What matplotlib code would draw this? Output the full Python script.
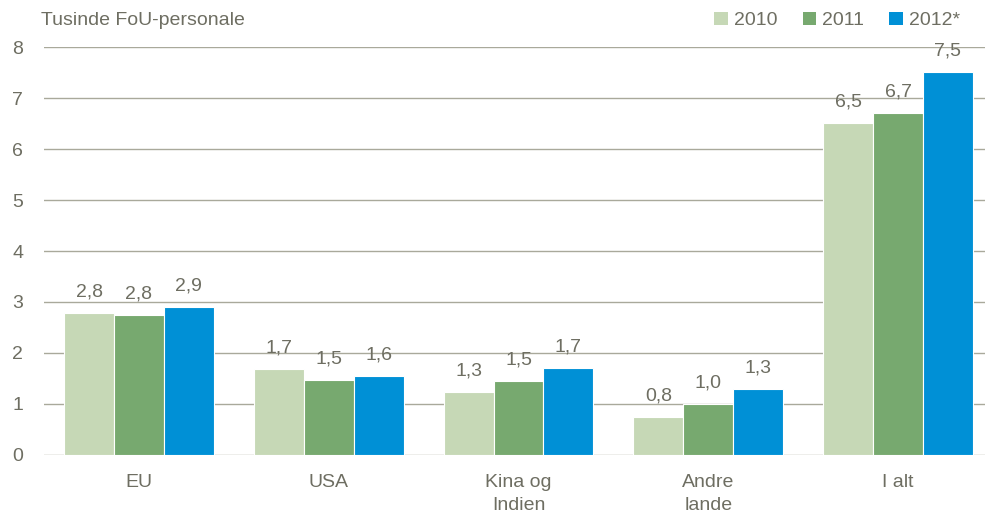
import numpy as np
import matplotlib.pyplot as plt
from matplotlib.patches import Patch

plt.rcParams['font.family'] = ['Liberation Sans Narrow', 'Liberation Sans', 'DejaVu Sans']

categories = ['EU', 'USA', 'Kina og\nIndien', 'Andre\nlande', 'I alt']
years = ['2010', '2011', '2012*']
values_2010 = [2.78, 1.69, 1.24, 0.75, 6.51]
values_2011 = [2.75, 1.47, 1.45, 1.00, 6.71]
values_2012 = [2.90, 1.55, 1.71, 1.29, 7.51]
labels_2010 = ['2,8', '1,7', '1,3', '0,8', '6,5']
labels_2011 = ['2,8', '1,5', '1,5', '1,0', '6,7']
labels_2012 = ['2,9', '1,6', '1,7', '1,3', '7,5']
colors = ['#c6d8b6', '#77a96f', '#0090d6']

text_col = '#6e6e62'
grid_col = '#a9a99b'

fig = plt.figure(figsize=(9.85, 5.17), dpi=100)
ax = fig.add_axes([0.0447, 0.12, 0.9553, 0.789])

x = np.arange(len(categories))
w = 0.263
series = [values_2010, values_2011, values_2012]
labels = [labels_2010, labels_2011, labels_2012]
for i, (vals, labs) in enumerate(zip(series, labels)):
    bars = ax.bar(x + (i - 1) * w, vals, w, color=colors[i], edgecolor='white',
                  linewidth=0.8, zorder=3)
    for b, lab in zip(bars, labs):
        ax.annotate(lab, (b.get_x() + b.get_width() / 2, b.get_height()),
                    xytext=(0, 9), textcoords='offset points', ha='center',
                    va='bottom', fontsize=14, color=text_col)

ax.set_xlim(-0.5, 4.458)
ax.set_ylim(0, 8)
ax.set_yticks(range(0, 9))
ax.yaxis.grid(True, color=grid_col, linewidth=1)
ax.set_axisbelow(True)
for s in ax.spines.values():
    s.set_visible(False)
ax.tick_params(axis='both', length=0, labelsize=14, labelcolor=text_col)
ax.tick_params(axis='y', pad=23)
ax.tick_params(axis='x', pad=14)
for lbl in ax.get_yticklabels():
    lbl.set_horizontalalignment('left')
ax.set_xticks(x)
ax.set_xticklabels(categories, linespacing=1.45)

fig.text(0.042, 0.96, 'Tusinde FoU-personale', fontsize=14, color=text_col, va='center')

handles = [Patch(facecolor=c, edgecolor='none') for c in colors]
leg = fig.legend(handles, years, loc='center', bbox_to_anchor=(0.85, 0.96), ncol=3,
                 frameon=False, fontsize=14, handlelength=0.7, handleheight=0.7,
                 handletextpad=0.3, columnspacing=1.3)
for t in leg.get_texts():
    t.set_color(text_col)

plt.savefig('out.png', dpi=100)
